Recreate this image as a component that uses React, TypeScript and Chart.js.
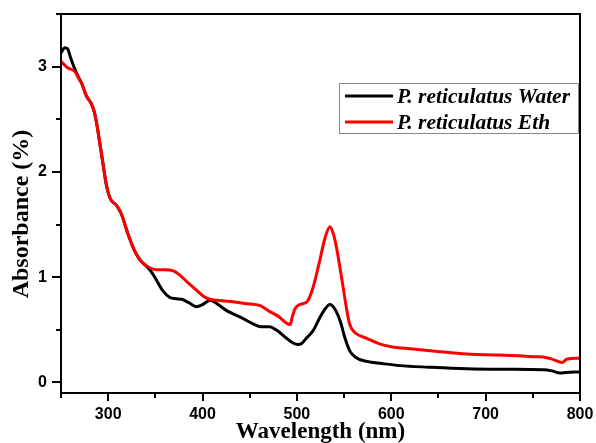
import React, { useEffect, useRef } from "react";
import { Chart, registerables } from "chart.js";

Chart.register(...registerables);

// Wavelength (nm) and absorbance for P. reticulatus Water extract
const waterWl = [250, 254, 257, 260, 265, 268, 272, 277, 282, 285, 288, 291, 295, 298, 302, 309, 314, 321, 328, 335, 340, 345, 350, 358, 365, 372, 378, 385, 394, 400, 408, 415, 426, 440, 453, 462, 471, 478, 489, 495, 501, 505, 510, 517, 524, 530, 535, 540, 546, 551, 556, 562, 574, 590, 609, 640, 680, 720, 761, 770, 779, 785, 800];
const waterAbs = [3.13, 3.18, 3.17, 3.09, 2.97, 2.91, 2.84, 2.72, 2.65, 2.58, 2.45, 2.28, 2.05, 1.88, 1.75, 1.68, 1.6, 1.41, 1.25, 1.15, 1.11, 1.06, 0.99, 0.87, 0.81, 0.795, 0.79, 0.76, 0.72, 0.74, 0.78, 0.75, 0.68, 0.62, 0.56, 0.53, 0.53, 0.5, 0.42, 0.38, 0.36, 0.37, 0.42, 0.49, 0.61, 0.7, 0.74, 0.7, 0.58, 0.42, 0.3, 0.24, 0.2, 0.18, 0.16, 0.145, 0.13, 0.125, 0.12, 0.11, 0.09, 0.095, 0.1];

// Wavelength (nm) and absorbance for P. reticulatus Eth extract
const ethWl = [250, 257, 265, 268, 272, 277, 282, 285, 288, 291, 295, 298, 302, 309, 314, 321, 328, 335, 344, 352, 360, 369, 376, 383, 392, 401, 408, 415, 430, 445, 461, 470, 480, 493, 495, 498, 503, 511, 517, 524, 530, 535, 539, 542, 548, 553, 556, 562, 574, 590, 600, 620, 644, 680, 715, 750, 765, 771, 781, 786, 800];
const ethAbs = [3.05, 2.99, 2.95, 2.9, 2.84, 2.72, 2.65, 2.58, 2.45, 2.28, 2.05, 1.88, 1.75, 1.68, 1.6, 1.41, 1.25, 1.15, 1.09, 1.07, 1.07, 1.06, 1.02, 0.96, 0.89, 0.82, 0.79, 0.78, 0.77, 0.75, 0.73, 0.68, 0.63, 0.55, 0.62, 0.7, 0.74, 0.77, 0.9, 1.15, 1.38, 1.48, 1.4, 1.28, 0.96, 0.68, 0.55, 0.47, 0.42, 0.36, 0.34, 0.32, 0.3, 0.27, 0.26, 0.245, 0.235, 0.22, 0.19, 0.22, 0.23];

const seriesNames = ["P. reticulatus Water", "P. reticulatus Eth"];
const seriesColors = ["#000000", "#ff0000"];
const xTickLabels = [300, 400, 500, 600, 700, 800];
const yTickLabels = [0, 1, 2, 3];
const xTitle = "Wavelength (nm)";
const yTitle = "Absorbance (%)";

const toPoints = (xs: number[], ys: number[]) => xs.map((x, i) => ({ x, y: ys[i] }));

const framePlugin = {
  id: "frameAndLegend",
  afterDatasetsDraw(chart: any) {
    const { ctx, chartArea, scales } = chart;
    const xs = scales.x;
    const ys = scales.y;
    ctx.save();
    ctx.strokeStyle = "#000";
    ctx.lineWidth = 2;
    ctx.strokeRect(chartArea.left, chartArea.top, chartArea.right - chartArea.left, chartArea.bottom - chartArea.top);
    // y ticks
    for (let v = 0; v <= 3.5001; v += 0.5) {
      const y = Math.round(ys.getPixelForValue(v));
      const major = Math.abs(v - Math.round(v)) < 1e-6;
      const len = major ? 9 : 5;
      ctx.beginPath();
      ctx.moveTo(chartArea.left, y);
      ctx.lineTo(chartArea.left - len, y);
      ctx.stroke();
    }
    // x ticks
    for (let w = 250; w <= 800; w += 50) {
      const x = Math.round(xs.getPixelForValue(w));
      const major = w % 100 === 0;
      const len = major ? 8 : 5;
      ctx.beginPath();
      ctx.moveTo(x, chartArea.bottom);
      ctx.lineTo(x, chartArea.bottom + len);
      ctx.stroke();
    }
    // axis titles
    ctx.fillStyle = "#000";
    ctx.textAlign = "center";
    ctx.textBaseline = "middle";
    ctx.font = "bold 23px 'Liberation Serif', 'Times New Roman', serif";
    ctx.fillText(xTitle, (chartArea.left + chartArea.right) / 2, 432);
    ctx.save();
    ctx.font = "bold 24px 'Liberation Serif', 'Times New Roman', serif";
    ctx.translate(22, 214);
    ctx.rotate(-Math.PI / 2);
    ctx.fillText(yTitle, 0, 0);
    ctx.restore();
    // legend
    const bx = 339, by = 83, bw = 239, bh = 50;
    ctx.fillStyle = "#fff";
    ctx.fillRect(bx, by, bw, bh);
    ctx.strokeStyle = "#888";
    ctx.lineWidth = 1;
    ctx.strokeRect(bx + 0.5, by + 0.5, bw, bh);
    ctx.font = "italic bold 21.5px 'Liberation Serif', 'Times New Roman', serif";
    ctx.textAlign = "left";
    ctx.textBaseline = "middle";
    const rows = [96, 122];
    seriesNames.forEach((name, i) => {
      ctx.strokeStyle = seriesColors[i];
      ctx.lineWidth = 3;
      ctx.beginPath();
      ctx.moveTo(345, rows[i]);
      ctx.lineTo(393, rows[i]);
      ctx.stroke();
      ctx.fillStyle = "#000";
      ctx.fillText(name, 397, rows[i] + 1);
    });
    ctx.restore();
  },
};

export default function App() {
  const ref = useRef<HTMLCanvasElement>(null);
  useEffect(() => {
    if (!ref.current) return;
    const chart = new Chart(ref.current, {
      type: "line",
      data: {
        datasets: [
          {
            label: seriesNames[0],
            data: toPoints(waterWl, waterAbs),
            borderColor: seriesColors[0],
            borderWidth: 3,
            pointRadius: 0,
            cubicInterpolationMode: "monotone",
            fill: false,
            order: 1,
          },
          {
            label: seriesNames[1],
            data: toPoints(ethWl, ethAbs),
            borderColor: seriesColors[1],
            borderWidth: 3,
            pointRadius: 0,
            cubicInterpolationMode: "monotone",
            fill: false,
            order: 0,
          },
        ],
      },
      options: {
        animation: false,
        responsive: false,
        events: [],
        layout: { padding: { top: 14, right: 16, left: 0, bottom: 0 } },
        plugins: { legend: { display: false }, tooltip: { enabled: false } },
        scales: {
          x: {
            type: "linear",
            min: 250,
            max: 800,
            grid: { display: false, drawTicks: false },
            border: { display: false },
            afterFit: (s: any) => { s.height = 50; s.paddingLeft = 0; s.paddingRight = 0; },
            afterBuildTicks: (s: any) => { s.ticks = xTickLabels.map((v) => ({ value: v })); },
            ticks: {
              padding: 12,
              color: "#000",
              font: { family: "'Liberation Sans', Arial, sans-serif", size: 16, weight: "bold" },
              maxRotation: 0,
            },
          },
          y: {
            type: "linear",
            min: -0.1,
            max: 3.5,
            grid: { display: false, drawTicks: false },
            border: { display: false },
            afterFit: (s: any) => { s.width = 61; s.paddingTop = 0; s.paddingBottom = 0; },
            afterBuildTicks: (s: any) => { s.ticks = yTickLabels.map((v) => ({ value: v })); },
            ticks: {
              padding: 14,
              color: "#000",
              font: { family: "'Liberation Sans', Arial, sans-serif", size: 16, weight: "bold" },
            },
          },
        },
      },
      plugins: [framePlugin],
    } as any);
    return () => chart.destroy();
  }, []);
  return (
    <div style={{ position: "fixed", left: 0, top: 0, width: 596, height: 443, background: "#fff" }}>
      <canvas ref={ref} width={596} height={443} style={{ display: "block", width: 596, height: 443 }} />
    </div>
  );
}
